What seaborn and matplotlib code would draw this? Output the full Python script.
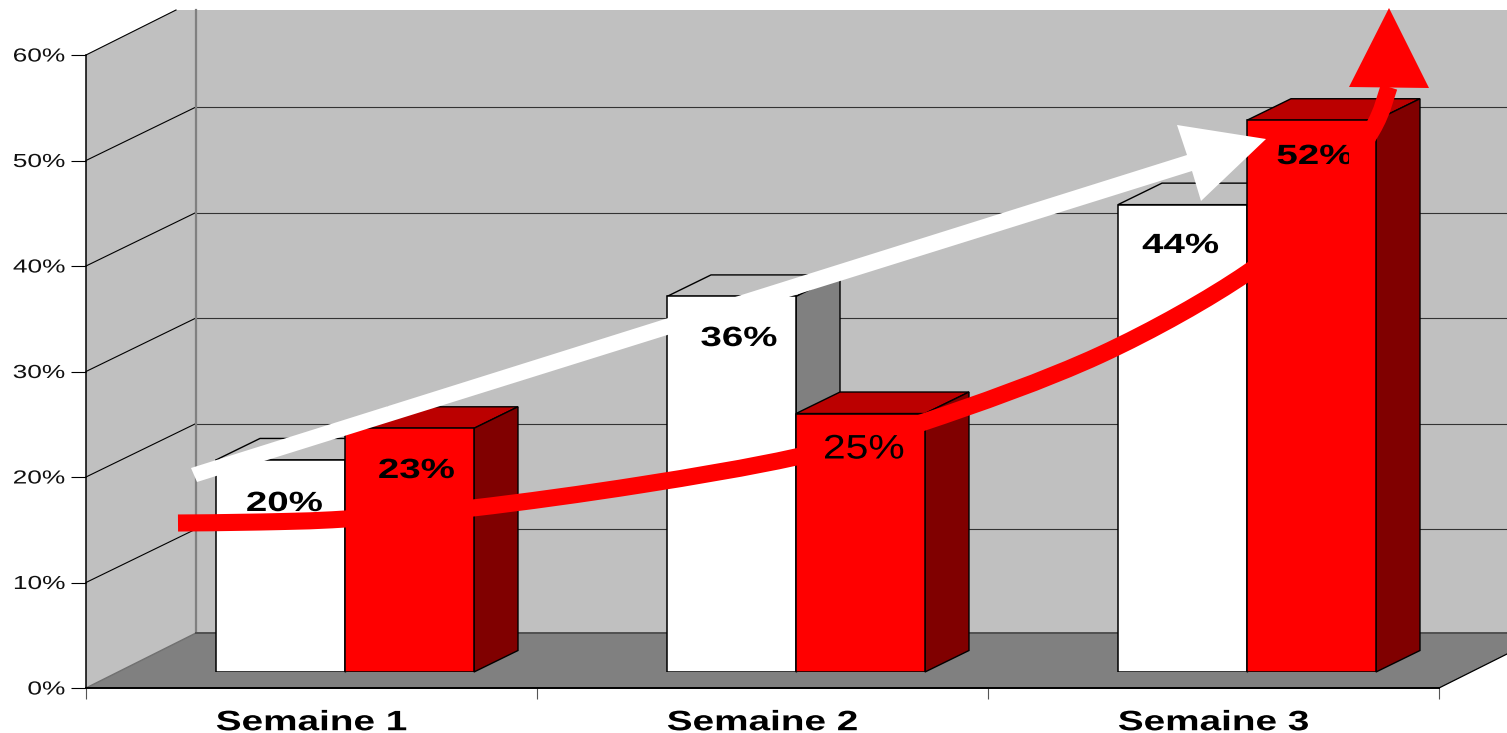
#!/usr/bin/env python3
"""
Sales-style 3D look bar chart, Semaine 1 to 3, with two trend arrows
"""

import pandas as pd
import numpy as np
import matplotlib
matplotlib.use("Agg")
import matplotlib.pyplot as plt
import matplotlib.patheffects as pe
import seaborn as sns
from matplotlib.patches import Polygon, PathPatch
from matplotlib.path import Path
from matplotlib.transforms import Affine2D, Bbox

# Data
semaines = ["Semaine 1", "Semaine 2", "Semaine 3"]
series_names = ["blanc", "rouge"]
blanc_values = [20.1, 35.6, 44.3]
rouge_values = [23.1, 24.5, 52.3]
y_ticks = [0, 10, 20, 30, 40, 50, 60]
y_labels = ["0%", "10%", "20%", "30%", "40%", "50%", "60%"]
blanc_labels = ["20%", "36%", "44%"]
rouge_labels = ["23%", "25%", "52%"]

W, H = 1507, 733
DEPTH_X, DEPTH_Y = 44, 21.5    # bar depth in pixels
PX_PER_UNIT = 633 / 60

plt.rcParams['font.family'] = ['Liberation Sans', 'DejaVu Sans']


class Stretch(pe.AbstractPathEffect):
    """The chart text is squashed wide, so stretch glyphs sideways around an anchor."""

    def __init__(self, sx, anchor=0.5):
        super().__init__()
        self.sx = sx
        self.anchor = anchor

    def draw_path(self, renderer, gc, tpath, affine, rgbFace=None):
        ext = tpath.get_extents()
        cx = ext.x0 + self.anchor * ext.width
        stretched = Affine2D().translate(-cx, 0).scale(self.sx, 1).translate(cx, 0) + affine
        renderer.draw_path(gc, tpath, stretched, rgbFace)


def px_axes(fig, left, top, right, bottom, **kw):
    # axes from pixel edges, y measured from the top of the picture
    return fig.add_axes([left / W, 1 - bottom / H, (right - left) / W, (bottom - top) / H], **kw)


fig = plt.figure(figsize=(W / 100, H / 100), dpi=100, facecolor="white")

# Walls and floor, in picture pixels
bg = px_axes(fig, 0, 0, W, H, zorder=0)
bg.set_xlim(0, W)
bg.set_ylim(H, 0)
bg.axis("off")
bg.add_patch(Polygon([(196, 10), (W, 10), (W, 633), (196, 633)], fc="#C0C0C0", ec="none"))
bg.add_patch(Polygon([(86, 688), (196, 633), (196, 10), (176, 10), (86, 55)], fc="#C0C0C0", ec="none"))
bg.add_patch(Polygon([(86, 688), (196, 633), (W, 633), (W, 654), (1439, 688)], fc="#808080", ec="none"))
for tick in y_ticks[1:]:
    front_y = 688 - tick * PX_PER_UNIT
    back_y = front_y - 53.5
    if back_y > 10:
        bg.plot([196, W], [back_y, back_y], color="#333333", lw=0.8)
        bg.plot([86, 196], [front_y, back_y], color="black", lw=0.8)
    else:
        bg.plot([86, 176], [front_y, 10], color="black", lw=0.8)
bg.plot([196, 196], [10, 633], color="#808080", lw=1.6)
bg.plot([86, 196], [688, 633], color="#707070", lw=1)
bg.plot([196, W], [633, 633], color="#505050", lw=1.4)
bg.plot([1439, W], [688, 654], color="black", lw=0.9)

# Axis with the ticks and labels
ax = px_axes(fig, 86, 55, 1439, 688, zorder=1)
ax.patch.set_alpha(0)
ax.set_xlim(0, 3)
ax.set_ylim(0, 60)
sns.despine(ax=ax)
ax.spines["left"].set_linewidth(1.1)
ax.spines["bottom"].set_linewidth(1.4)
ax.set_yticks(y_ticks)
ax.set_yticklabels(y_labels, fontsize=13.6, color="#111111")
ax.set_xticks([0, 1, 2, 3])
ax.set_xticklabels([])
ax.set_xticks([0.5, 1.5, 2.5], minor=True)
ax.set_xticklabels(semaines, minor=True, fontsize=20.2, fontweight="bold")
ax.tick_params(axis="y", length=10.8, width=0.8, pad=4.3)
ax.tick_params(axis="x", which="major", length=8, width=0.8, color="#555555")
ax.tick_params(axis="x", which="minor", length=0, pad=16)
for lab in ax.get_yticklabels():
    lab.set_path_effects([Stretch(1.39, anchor=1.0)])
for lab in ax.get_xticklabels(minor=True):
    lab.set_path_effects([Stretch(1.38)])

# Bars, the axes is shifted to sit on the floor
ax_bars = px_axes(fig, 119.5, 39, 1472.5, 672, zorder=2)
ax_bars.patch.set_alpha(0)
df = pd.DataFrame({
    "semaine": semaines * 2,
    "serie": [series_names[0]] * 3 + [series_names[1]] * 3,
    "valeur": blanc_values + rouge_values,
})
sns.barplot(data=df, x="semaine", y="valeur", hue="serie", hue_order=series_names,
            palette=["white", "#FF0000"], width=0.572, gap=0, dodge=True, saturation=1,
            edgecolor="black", linewidth=1.1, legend=False, ax=ax_bars)
ax_bars.set_xlim(-0.5, 2.5)
ax_bars.set_ylim(0, 60)
ax_bars.axis("off")

# Depth faces taken from the seaborn bars
dx = DEPTH_X / 451
dy = DEPTH_Y / PX_PER_UNIT
face_colors = [("#C0C0C0", "#808080"), ("#BB0000", "#800000")]
for k, container in enumerate(ax_bars.containers):
    top_col, side_col = face_colors[k]
    for bar in container:
        x0, x1 = bar.get_x(), bar.get_x() + bar.get_width()
        h = bar.get_height()
        ax_bars.add_patch(Polygon([(x0, h), (x1, h), (x1 + dx, h + dy), (x0 + dx, h + dy)],
                                  fc=top_col, ec="black", lw=1.0, zorder=1 + k * 0.1, clip_on=False))
        ax_bars.add_patch(Polygon([(x1, 0), (x1 + dx, dy), (x1 + dx, h + dy), (x1, h)],
                                  fc=side_col, ec="black", lw=1.0, zorder=1 + k * 0.1, clip_on=False))
    for bar in container:
        bar.set_zorder(2)

# Overlay for arrows and value labels
ov = px_axes(fig, 0, 0, W, H, zorder=3)
ov.patch.set_alpha(0)
ov.set_xlim(0, W)
ov.set_ylim(H, 0)
ov.axis("off")

# White arrow
ov.add_patch(Polygon([(191, 468), (197, 482), (1192, 171), (1201, 201), (1266, 139),
                      (1177, 125), (1187, 155)], fc="white", ec="none", zorder=3))

# Red arrow, smooth curve through points
red_curve = np.array([(178, 523), (260, 522), (345, 519), (473, 508), (640, 485), (796, 457),
                      (924, 422), (1100, 355), (1247, 273), (1320, 205), (1372, 130), (1389, 87)], dtype=float)
verts = [red_curve[0]]
codes = [Path.MOVETO]
pts = np.vstack([red_curve[0], red_curve, red_curve[-1]])
for i in range(1, len(pts) - 2):
    verts += [pts[i] + (pts[i + 1] - pts[i - 1]) / 6, pts[i + 1] - (pts[i + 2] - pts[i]) / 6, pts[i + 1]]
    codes += [Path.CURVE4] * 3
ov.add_patch(PathPatch(Path(verts, codes), fc="none", ec="#FF0000", lw=12.3, capstyle="butt", zorder=5))
ov.add_patch(Polygon([(1389, 8), (1349, 87), (1429, 88)], fc="#FF0000", ec="none", zorder=5))

# Value labels
label_pos = [(284.5, 504), (739, 339), (1180.5, 246), (416.5, 471), (864, 450), (1315, 157)]
all_labels = blanc_labels + rouge_labels
for (x, y), txt in zip(label_pos, all_labels):
    thin = txt == "25%"
    t = ov.text(x, y, txt, ha="center", va="center", color="black",
                fontsize=24.5 if thin else 20, fontweight="normal" if thin else "bold",
                zorder=4 if txt == "20%" else 6)
    t.set_path_effects([Stretch(1.2 if thin else 1.385)])
    if txt == "52%":
        # the % is cut off in the original
        t.set_clip_on(True)
        t.set_clip_box(Bbox([[1200, 0], [1349, H]]))

plt.savefig("out.png", dpi=100)
plt.close()
print("Saved out.png")
